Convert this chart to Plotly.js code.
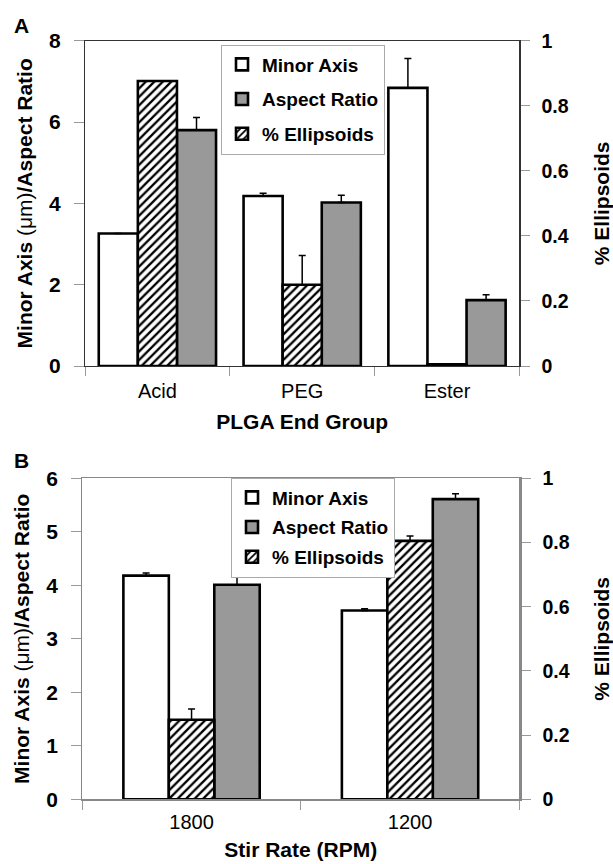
<!DOCTYPE html>
<html>
<head>
<meta charset="utf-8">
<script src="https://cdn.plot.ly/plotly-3.0.1.min.js"></script>
<style>html,body{margin:0;padding:0;background:#fff;}#chart{width:613px;height:864px;}</style>
</head>
<body>
<div id="chart"></div>
<script>
// ---- Data ----
const groupsA = ['Acid', 'PEG', 'Ester'];
const minorA = [3.26, 4.18, 6.84];
const minorErrA = [0, 0.07, 0.72];
const aspectA = [5.80, 4.02, 1.62];
const aspectErrA = [0.31, 0.18, 0.13];
const ellipsA = [0.876, 0.25, 0.005];
const ellipsErrA = [0, 0.09, 0];

const groupsB = ['1800', '1200'];
const minorB = [4.18, 3.53];
const minorErrB = [0.05, 0.03];
const aspectB = [4.01, 5.61];
const aspectErrB = [0.17, 0.10];
const ellipsB = [0.248, 0.805];
const ellipsErrB = [0.033, 0.015];

const seriesNames = ['Minor Axis', 'Aspect Ratio', '% Ellipsoids'];
const leftTitle = 'Minor Axis <span style="font-weight:normal">(μm)</span>/Aspect Ratio';
const rightTitle = '% Ellipsoids';

// ---- Styles ----
const FONT = '"Liberation Sans", Arial, Helvetica, sans-serif';
const GRAY_FILL = '#999999';
const zeros = n => new Array(n).fill(0);

function errBar(arr) {
  return {type: 'data', symmetric: false, array: arr, arrayminus: zeros(arr.length),
          color: '#000', thickness: 1.5, width: 3.5};
}

function panelTraces(cats, minor, minorErr, aspect, aspectErr, ellips, ellipsErr, xa, ya, ya2, legendId, w, offs) {
  const line = {color: '#000', width: 2.6};
  return [
    {type: 'bar', name: seriesNames[0], x: cats, y: minor, xaxis: xa, yaxis: ya,
     width: w, offset: offs[0], marker: {color: '#ffffff', line: line},
     error_y: errBar(minorErr), legend: legendId, legendgroup: legendId + 'a', hoverinfo: 'skip'},
    {type: 'bar', name: seriesNames[1], x: cats, y: aspect, xaxis: xa, yaxis: ya,
     width: w, offset: offs[2], marker: {color: GRAY_FILL, line: line},
     error_y: errBar(aspectErr), legend: legendId, legendgroup: legendId + 'b', hoverinfo: 'skip'},
    {type: 'bar', name: seriesNames[2], x: cats, y: ellips, xaxis: xa, yaxis: ya2,
     width: w, offset: offs[1],
     marker: {color: '#ffffff', line: line,
              pattern: {shape: '/', fgcolor: '#000', bgcolor: '#ffffff', size: 6, solidity: 0.38}},
     error_y: errBar(ellipsErr), legend: legendId, legendgroup: legendId + 'c', hoverinfo: 'skip'}
  ];
}

const wA = 0.27;
const tracesA = panelTraces(groupsA, minorA, minorErrA, aspectA, aspectErrA, ellipsA, ellipsErrA,
  'x', 'y', 'y2', 'legend', wA, [-1.5 * wA, -0.5 * wA, 0.5 * wA]);
const wB = 0.208;
const tracesB = panelTraces(groupsB, minorB, minorErrB, aspectB, aspectErrB, ellipsB, ellipsErrB,
  'x2', 'y5', 'y6', 'legend2', wB, [-1.5 * wB, -0.5 * wB, 0.5 * wB]);

const H = 864, W = 613;
const fy = px => 1 - px / H;
const fx = px => px / W;

const domXA = [fx(85), fx(519.4)];
const domYA = [fy(366), fy(40.7)];
const domXB = [fx(82.3), fx(519.3)];
const domYB = [fy(799.3), fy(478.3)];

const leftTickFont = {family: FONT, size: 21, color: '#000', weight: 'bold'};
const rightTickFont = {family: FONT, size: 19.5, color: '#000', weight: 'bold'};
const catFont = {family: FONT, size: 20, color: '#000'};
const titleFont = {family: FONT, size: 21, color: '#000', weight: 'bold'};

function boundaries(n) { const b = []; for (let i = 0; i <= n; i++) b.push(i - 0.5); return b; }

function insideAxis(extra) {
  return Object.assign({showticklabels: false, showgrid: false, zeroline: false, showline: false,
    ticks: 'inside', ticklen: 10, tickcolor: '#999', tickwidth: 1, fixedrange: true}, extra);
}

const layout = {
  width: W, height: H,
  margin: {l: 0, r: 0, t: 0, b: 0},
  paper_bgcolor: '#fff', plot_bgcolor: 'rgba(0,0,0,0)',
  barmode: 'overlay',
  showlegend: true,
  font: {family: FONT, color: '#000'},
  // ---------- Panel A ----------
  xaxis: {type: 'category', domain: domXA, anchor: 'y', range: [-0.5, groupsA.length - 0.5],
    showline: true, linecolor: '#333', linewidth: 1.2, mirror: true,
    ticks: 'outside', tickson: 'boundaries', ticklen: 9, tickcolor: '#999',
    tickfont: catFont, ticklabelstandoff: 7, showgrid: false, zeroline: false,
    title: {text: 'PLGA End Group', font: titleFont, standoff: 13}},
  yaxis: {domain: domYA, anchor: 'x', range: [0, 8], dtick: 2, tick0: 0,
    showline: true, linecolor: '#333', linewidth: 1.2,
    ticks: 'outside', ticklen: 10, tickcolor: '#999', tickfont: leftTickFont, ticklabelstandoff: 9,
    showgrid: false, zeroline: false,
    title: {text: leftTitle, font: titleFont, standoff: 10}},
  yaxis2: {overlaying: 'y', side: 'right', anchor: 'x', range: [0, 1], dtick: 0.2, tick0: 0,
    showline: true, linecolor: '#333', linewidth: 1.2,
    ticks: 'outside', ticklen: 9, tickcolor: '#999', tickfont: rightTickFont, ticklabelstandoff: 8,
    showgrid: false, zeroline: false,
    title: {text: rightTitle, font: titleFont, standoff: 37}},
  xaxis3: insideAxis({overlaying: 'x', anchor: 'y', range: [-0.5, groupsA.length - 0.5],
    tickmode: 'array', tickvals: boundaries(groupsA.length), ticklen: 9}),
  yaxis3: insideAxis({overlaying: 'y', anchor: 'x', range: [0, 8], dtick: 2, tick0: 0}),
  yaxis4: insideAxis({overlaying: 'y', anchor: 'x', side: 'right', range: [0, 1], dtick: 0.2, tick0: 0}),
  // ---------- Panel B ----------
  xaxis2: {type: 'category', domain: domXB, anchor: 'y5', range: [-0.5, groupsB.length - 0.5],
    showline: true, linecolor: '#888', linewidth: 1.2, mirror: true,
    ticks: 'outside', tickson: 'boundaries', ticklen: 9, tickcolor: '#999',
    tickfont: catFont, ticklabelstandoff: 4, showgrid: false, zeroline: false,
    title: {text: 'Stir Rate (RPM)', font: titleFont, standoff: 10}},
  yaxis5: {domain: domYB, anchor: 'x2', range: [0, 6], dtick: 1, tick0: 0,
    showline: true, linecolor: '#888', linewidth: 1.2,
    ticks: 'outside', ticklen: 10, tickcolor: '#999', tickfont: leftTickFont, ticklabelstandoff: 9,
    showgrid: false, zeroline: false,
    title: {text: leftTitle, font: titleFont, standoff: 10}},
  yaxis6: {overlaying: 'y5', side: 'right', anchor: 'x2', range: [0, 1], dtick: 0.2, tick0: 0,
    showline: true, linecolor: '#888', linewidth: 2.2,
    ticks: 'outside', ticklen: 9, tickcolor: '#999', tickfont: rightTickFont, ticklabelstandoff: 8,
    showgrid: false, zeroline: false,
    title: {text: rightTitle, font: titleFont, standoff: 37}},
  xaxis4: insideAxis({overlaying: 'x2', anchor: 'y5', range: [-0.5, groupsB.length - 0.5],
    tickmode: 'array', tickvals: boundaries(groupsB.length), ticklen: 9}),
  yaxis7: insideAxis({overlaying: 'y5', anchor: 'x2', range: [0, 6], dtick: 1, tick0: 0}),
  yaxis8: insideAxis({overlaying: 'y5', anchor: 'x2', side: 'right', range: [0, 1], dtick: 0.2, tick0: 0}),
  legend: {x: fx(221), y: fy(44.5), xanchor: 'left', yanchor: 'top',
    bgcolor: '#fff', bordercolor: '#aaa', borderwidth: 1,
    font: {family: FONT, size: 19, color: '#000', weight: 'bold'},
    traceorder: 'grouped', tracegroupgap: 7, itemwidth: 30},
  legend2: {x: fx(231), y: fy(477.5), xanchor: 'left', yanchor: 'top',
    bgcolor: '#fff', bordercolor: '#aaa', borderwidth: 1,
    font: {family: FONT, size: 19, color: '#000', weight: 'bold'},
    traceorder: 'grouped', tracegroupgap: 2, itemwidth: 30},
  annotations: [
    {text: 'A', x: fx(22), y: fy(26), xref: 'paper', yref: 'paper', xanchor: 'center', yanchor: 'middle',
     showarrow: false, font: {family: FONT, size: 21, color: '#000', weight: 'bold'}},
    {text: 'B', x: fx(22), y: fy(460), xref: 'paper', yref: 'paper', xanchor: 'center', yanchor: 'middle',
     showarrow: false, font: {family: FONT, size: 21, color: '#000', weight: 'bold'}}
  ]
};

Plotly.newPlot('chart', tracesA.concat(tracesB), layout, {displayModeBar: false, staticPlot: true});
</script>
</body>
</html>
